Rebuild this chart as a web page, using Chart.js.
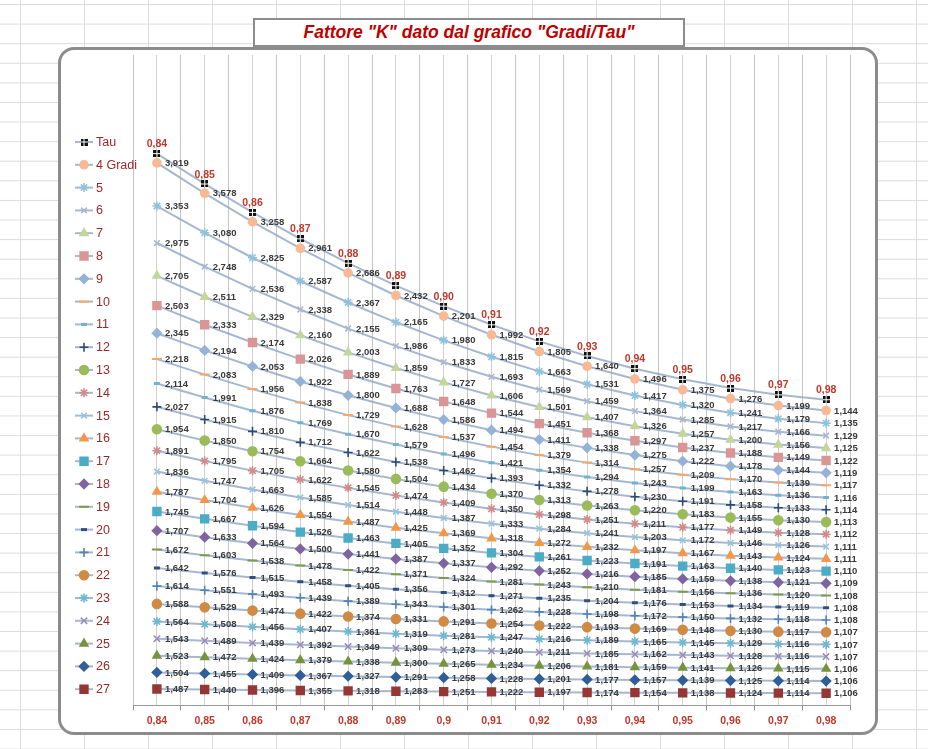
<!DOCTYPE html>
<html>
<head>
<meta charset="utf-8">
<title>Fattore K dato dal grafico Gradi/Tau</title>
<script src="https://cdn.jsdelivr.net/npm/chart.js@4.4.1/dist/chart.umd.min.js"></script>
<style>
  html, body { margin: 0; padding: 0; width: 928px; height: 749px; overflow: hidden; background: #fff; }
  #sheet {
    position: absolute; left: 0; top: 0; width: 928px; height: 749px;
    background-image:
      linear-gradient(to right, #dcdcdc 1px, transparent 1px),
      linear-gradient(to bottom, #dcdcdc 1px, transparent 1px);
    background-size: 64px 19.6px;
    background-position: 20px 4px;
  }
  #frame {
    position: absolute; left: 58px; top: 47px; width: 814px; height: 682px;
    border: 3px solid #8c8c8c; border-radius: 16px; background: #fff;
  }
  #titlebox {
    position: absolute; left: 253px; top: 18px; width: 428px; height: 25px;
    border: 2px solid #8c8c8c; background: #fff;
    font: italic bold 17.5px "Liberation Sans", Arial, sans-serif; color: #c00000;
    text-align: center; line-height: 25px; white-space: nowrap;
  }
  #chart { position: absolute; left: 0; top: 0; }
</style>
</head>
<body>
<div id="sheet"></div>
<div id="frame"></div>
<div id="titlebox">Fattore "K" dato dal grafico "Gradi/Tau"</div>
<canvas id="chart" width="928" height="749"></canvas>
<script>
// Categories (Tau) and axis tick labels
const tauTicks = ['0,84','0,85','0,86','0,87','0,88','0,89','0,9','0,91','0,92','0,93','0,94','0,95','0,96','0,97','0,98'];
const tau = [0.84,0.85,0.86,0.87,0.88,0.89,0.90,0.91,0.92,0.93,0.94,0.95,0.96,0.97,0.98];

// K factor per angle (gradi), one value per Tau
const k4  = [3.919,3.578,3.258,2.961,2.686,2.432,2.201,1.992,1.805,1.640,1.496,1.375,1.276,1.199,1.144];
const k5  = [3.353,3.080,2.825,2.587,2.367,2.165,1.980,1.815,1.663,1.531,1.417,1.320,1.241,1.179,1.135];
const k6  = [2.975,2.748,2.536,2.338,2.155,1.986,1.833,1.693,1.569,1.459,1.364,1.285,1.217,1.166,1.129];
const k7  = [2.705,2.511,2.329,2.160,2.003,1.859,1.727,1.606,1.501,1.407,1.326,1.257,1.200,1.156,1.125];
const k8  = [2.503,2.333,2.174,2.026,1.889,1.763,1.648,1.544,1.451,1.368,1.297,1.237,1.188,1.149,1.122];
const k9  = [2.345,2.194,2.053,1.922,1.800,1.688,1.586,1.494,1.411,1.338,1.275,1.222,1.178,1.144,1.119];
const k10 = [2.218,2.083,1.956,1.838,1.729,1.628,1.537,1.454,1.379,1.314,1.257,1.209,1.170,1.139,1.117];
const k11 = [2.114,1.991,1.876,1.769,1.670,1.579,1.496,1.421,1.354,1.294,1.243,1.199,1.163,1.136,1.116];
const k12 = [2.027,1.915,1.810,1.712,1.622,1.538,1.462,1.393,1.332,1.278,1.230,1.191,1.158,1.133,1.114];
const k13 = [1.954,1.850,1.754,1.664,1.580,1.504,1.434,1.370,1.313,1.263,1.220,1.183,1.155,1.130,1.113];
const k14 = [1.891,1.795,1.705,1.622,1.545,1.474,1.409,1.350,1.298,1.251,1.211,1.177,1.149,1.128,1.112];
const k15 = [1.836,1.747,1.663,1.585,1.514,1.448,1.387,1.333,1.284,1.241,1.203,1.172,1.146,1.126,1.111];
const k16 = [1.787,1.704,1.626,1.554,1.487,1.425,1.369,1.318,1.272,1.232,1.197,1.167,1.143,1.124,1.111];
const k17 = [1.745,1.667,1.594,1.526,1.463,1.405,1.352,1.304,1.261,1.223,1.191,1.163,1.140,1.123,1.110];
const k18 = [1.707,1.633,1.564,1.500,1.441,1.387,1.337,1.292,1.252,1.216,1.185,1.159,1.138,1.121,1.109];
const k19 = [1.672,1.603,1.538,1.478,1.422,1.371,1.324,1.281,1.243,1.210,1.181,1.156,1.136,1.120,1.108];
const k20 = [1.642,1.576,1.515,1.458,1.405,1.356,1.312,1.271,1.235,1.204,1.176,1.153,1.134,1.119,1.108];
const k21 = [1.614,1.551,1.493,1.439,1.389,1.343,1.301,1.262,1.228,1.198,1.172,1.150,1.132,1.118,1.108];
const k22 = [1.588,1.529,1.474,1.422,1.374,1.331,1.291,1.254,1.222,1.193,1.169,1.148,1.130,1.117,1.107];
const k23 = [1.564,1.508,1.456,1.407,1.361,1.319,1.281,1.247,1.216,1.189,1.165,1.145,1.129,1.116,1.107];
const k24 = [1.543,1.489,1.439,1.392,1.349,1.309,1.273,1.240,1.211,1.185,1.162,1.143,1.128,1.116,1.107];
const k25 = [1.523,1.472,1.424,1.379,1.338,1.300,1.265,1.234,1.206,1.181,1.159,1.141,1.126,1.115,1.106];
const k26 = [1.504,1.455,1.409,1.367,1.327,1.291,1.258,1.228,1.201,1.177,1.157,1.139,1.125,1.114,1.106];
const k27 = [1.487,1.440,1.396,1.355,1.318,1.283,1.251,1.222,1.197,1.174,1.154,1.138,1.124,1.114,1.106];

const seriesNames = ['4 Gradi','5','6','7','8','9','10','11','12','13','14','15','16','17','18','19','20','21','22','23','24','25','26','27'];
const kSeries = [k4,k5,k6,k7,k8,k9,k10,k11,k12,k13,k14,k15,k16,k17,k18,k19,k20,k21,k22,k23,k24,k25,k26,k27];

// Marker look of each angle series (same order as seriesNames)
const markerStyles = [
  { style: 'circle',    color: '#f8b994', r: 4   },
  { style: 'star',      color: '#8fc3dc', r: 4.5 },
  { style: 'crossRot',  color: '#a9b7cf', r: 4   },
  { style: 'triangle',  color: '#c3d69b', r: 4.5 },
  { style: 'rect',      color: '#d99694', r: 5.5 },
  { style: 'rectRot',   color: '#95b3d7', r: 4.5 },
  { style: 'line',      color: '#f6a868', r: 5,  w: 2 },
  { style: 'line',      color: '#6fb3cf', r: 3,  w: 3 },
  { style: 'cross',     color: '#2c4a76', r: 4.5 },
  { style: 'circle',    color: '#9bbb59', r: 4.5 },
  { style: 'star',      color: '#d28b8a', r: 4.5 },
  { style: 'crossRot',  color: '#93c6dc', r: 4   },
  { style: 'triangle',  color: '#f79646', r: 4.5 },
  { style: 'rect',      color: '#4bacc6', r: 5.5 },
  { style: 'rectRot',   color: '#8064a2', r: 4.5 },
  { style: 'line',      color: '#7f9a48', r: 5,  w: 2 },
  { style: 'line',      color: '#2f4f7f', r: 3,  w: 3 },
  { style: 'cross',     color: '#4f81bd', r: 4.5 },
  { style: 'circle',    color: '#d08a44', r: 4.5 },
  { style: 'star',      color: '#6fb8d0', r: 4.5 },
  { style: 'crossRot',  color: '#9d8bb8', r: 4.5 },
  { style: 'triangle',  color: '#77933c', r: 4.5 },
  { style: 'rectRot',   color: '#2f5f98', r: 4.5 },
  { style: 'rect',      color: '#953735', r: 5.5 }
];
const LINE_COLOR = 'rgba(132,156,190,0.72)';

// Tau marker: small black square split by a white cross
const tauMarker = document.createElement('canvas');
tauMarker.width = 7; tauMarker.height = 7;
(function () {
  const c = tauMarker.getContext('2d');
  c.fillStyle = '#111'; c.fillRect(0, 0, 7, 7);
  c.fillStyle = '#fff'; c.fillRect(3, 0, 1, 7); c.fillRect(0, 3, 7, 1);
})();

Chart.defaults.font.family = '"Liberation Sans", Arial, sans-serif';

// Stacked: the last angle (27) sits at the bottom, Tau on top
const datasets = [];
for (let i = kSeries.length - 1; i >= 0; i--) {
  const m = markerStyles[i];
  datasets.push({
    label: seriesNames[i],
    data: kSeries[i],
    borderColor: LINE_COLOR,
    borderWidth: 2,
    pointStyle: m.style,
    pointRadius: m.r,
    pointBackgroundColor: m.color,
    pointBorderColor: m.color,
    pointBorderWidth: m.w || 1.6,
    tension: 0,
    decimals: 3
  });
}
datasets.push({
  label: 'Tau',
  data: tau,
  borderColor: LINE_COLOR,
  borderWidth: 2,
  pointStyle: tauMarker,
  pointRadius: 4,
  pointBackgroundColor: '#111',
  pointBorderColor: '#111',
  tension: 0,
  decimals: 2,
  isTau: true
});

function fmt(v, d) { return v.toFixed(d).replace('.', ','); }

// Value labels next to each marker
const valueLabels = {
  id: 'valueLabels',
  afterDatasetsDraw(chart) {
    const ctx = chart.ctx;
    ctx.save();
    chart.data.datasets.forEach((ds, i) => {
      const meta = chart.getDatasetMeta(i);
      meta.data.forEach((pt, j) => {
        const v = ds.data[j];
        if (ds.isTau) {
          ctx.font = 'bold 10.5px "Liberation Sans", Arial, sans-serif';
          ctx.fillStyle = '#c0392b';
          ctx.textAlign = 'center';
          ctx.textBaseline = 'bottom';
          ctx.fillText(fmt(v, 2), pt.x, pt.y - 4);
        } else {
          ctx.font = 'bold 9.5px "Liberation Sans", Arial, sans-serif';
          ctx.fillStyle = '#3a3a3a';
          ctx.textAlign = 'left';
          ctx.textBaseline = 'middle';
          ctx.fillText(fmt(v, ds.decimals), pt.x + 8, pt.y + 0.5);
        }
      });
    });
    ctx.restore();
  }
};

// Vertical legend at the left: Tau first, then the angles
const sideLegend = {
  id: 'sideLegend',
  afterDraw(chart) {
    const ctx = chart.ctx;
    const top = 142, step = 22.8, cx = 84;
    const items = chart.data.datasets.slice().reverse();
    ctx.save();
    items.forEach((ds, idx) => {
      const y = top + idx * step;
      ctx.strokeStyle = LINE_COLOR;
      ctx.lineWidth = 2;
      ctx.beginPath(); ctx.moveTo(cx - 9, y); ctx.lineTo(cx + 9, y); ctx.stroke();
      ctx.fillStyle = ds.pointBackgroundColor;
      ctx.strokeStyle = ds.pointBorderColor;
      ctx.lineWidth = ds.pointBorderWidth || 1.6;
      Chart.helpers.drawPoint(ctx, {
        pointStyle: ds.pointStyle, rotation: 0,
        radius: ds.pointRadius, borderWidth: ds.pointBorderWidth || 1.6
      }, cx, y);
      ctx.font = '12.5px "Liberation Sans", Arial, sans-serif';
      ctx.fillStyle = '#9a2a2a';
      ctx.textAlign = 'left';
      ctx.textBaseline = 'middle';
      ctx.fillText(ds.label, cx + 12, y + 0.5);
    });
    ctx.restore();
  }
};

new Chart(document.getElementById('chart'), {
  type: 'line',
  data: { labels: tauTicks, datasets },
  options: {
    responsive: false,
    animation: false,
    devicePixelRatio: 1,
    events: [],
    layout: { padding: { left: 133, right: 78, top: 55, bottom: 18 } },
    plugins: { legend: { display: false }, tooltip: { enabled: false }, title: { display: false } },
    scales: {
      x: {
        type: 'category',
        offset: true,
        grid: { offset: true, color: '#c6c6c6', lineWidth: 1, tickColor: '#8c8c8c', tickLength: 5 },
        border: { display: true, color: '#9a9a9a', width: 1 },
        ticks: {
          color: '#c0392b', padding: 4, maxRotation: 0, autoSkip: false,
          font: { size: 10.5, weight: 'bold' }
        }
      },
      xMid: {
        type: 'category',
        position: 'top',
        offset: true,
        grid: { offset: false, color: '#d0d0d0', lineWidth: 1, drawTicks: false },
        border: { display: false },
        ticks: { display: false }
      },
      y: {
        display: false,
        stacked: true,
        min: 0,
        max: 59
      }
    }
  },
  plugins: [valueLabels, sideLegend]
});
</script>
</body>
</html>
